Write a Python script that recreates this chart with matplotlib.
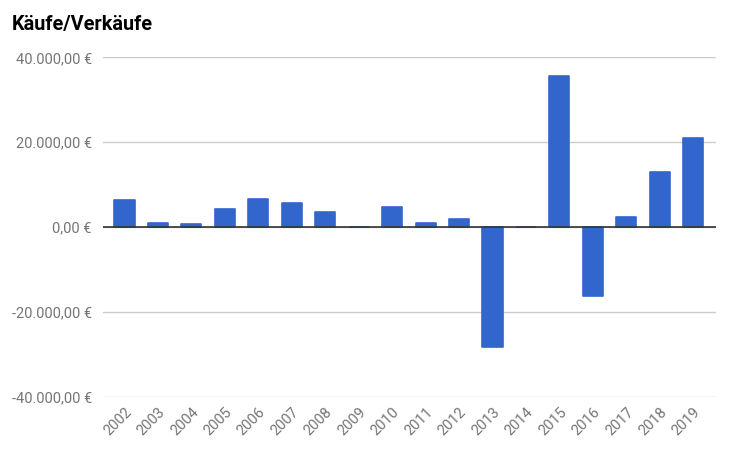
import matplotlib
matplotlib.use("Agg")
import matplotlib.pyplot as plt
from matplotlib.ticker import FuncFormatter

years = ["2002", "2003", "2004", "2005", "2006", "2007", "2008", "2009", "2010",
         "2011", "2012", "2013", "2014", "2015", "2016", "2017", "2018", "2019"]
values = [6250, 1000, 700, 4200, 6550, 5700, 3600, 0, 4750,
          950, 1900, -28350, 0, 35700, -16350, 2400, 12950, 20950]
y_ticks = [-40000, -20000, 0, 20000, 40000]

plt.rcParams['font.family'] = ['Roboto', 'DejaVu Sans']

fig = plt.figure(figsize=(7.30, 4.54), dpi=100)
ax = fig.add_axes([103/730, 1-396.5/454, 613/730, (396.5-57.3)/454])

x = list(range(len(years)))
bars = ax.bar(x, values, width=0.60, color="#3366CC", edgecolor="#3366CC",
              linewidth=1.2, zorder=3)
for b in bars:
    b.set_joinstyle('round')

ax.set_ylim(-40000, 40000)
ax.set_xlim(-0.643, 17.68)
ax.set_yticks(y_ticks)

def fmt(v, pos):
    s = f"{abs(v):,.2f}".replace(",", "X").replace(".", ",").replace("X", ".")
    return ("-" if v < 0 else "") + s + " €"

ax.yaxis.set_major_formatter(FuncFormatter(fmt))
ax.grid(axis='y', color="#cccccc", linewidth=1, zorder=0)
ax.axhline(0, color="#333333", linewidth=1.2, zorder=4)

ax.set_xticks(x)
ax.set_xticklabels(years, rotation=45, ha='right', rotation_mode='anchor')
for lab in ax.get_xticklabels():
    lab.set_fontsize(10.5)
    lab.set_color("#757575")
for lab in ax.get_yticklabels():
    lab.set_fontsize(10.5)
    lab.set_color("#757575")

ax.tick_params(axis='both', length=0)
ax.tick_params(axis='y', pad=8)
ax.tick_params(axis='x', pad=6)
for sp in ax.spines.values():
    sp.set_visible(False)

fig.text(12/730, 1-30/454, "Käufe/Verkäufe", fontsize=14.3, fontweight='bold',
         color="#000000", ha='left', va='baseline')

fig.savefig("out.png", dpi=100, facecolor="white")
